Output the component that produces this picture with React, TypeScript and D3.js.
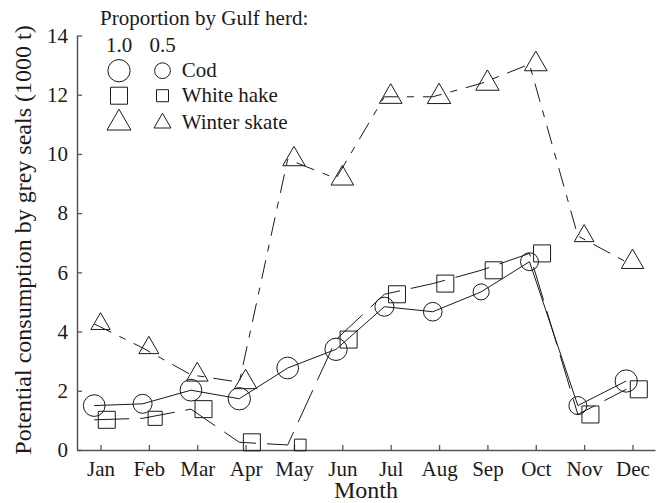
import React, { useEffect, useRef } from "react";
import * as d3 from "d3";

const months = ["Jan", "Feb", "Mar", "Apr", "May", "Jun", "Jul", "Aug", "Sep", "Oct", "Nov", "Dec"];

const codValues = [1.5, 1.56, 2.02, 1.73, 2.77, 3.4, 4.84, 4.67, 5.34, 6.36, 1.5, 2.33];
const codProportion = [0.95, 0.73, 0.95, 1.0, 0.95, 1.0, 0.73, 0.7, 0.52, 0.65, 0.65, 1.0];

const hakeValues = [1.02, 1.07, 1.38, 0.26, 0.17, 3.73, 5.26, 5.62, 6.07, 6.64, 1.2, 2.05];
const hakeProportion = [1.0, 0.69, 1.0, 1.0, 0.47, 1.0, 1.0, 1.0, 1.0, 1.0, 1.0, 1.0];

const skateValues = [4.26, 3.45, 2.54, 2.29, 9.82, 9.17, 11.93, 11.93, 12.38, 13.03, 7.23, 6.35];
const skateProportion = [0.65, 0.69, 0.82, 0.87, 0.87, 0.89, 0.89, 0.95, 0.95, 0.89, 0.67, 0.87];

const yTicks = [0, 2, 4, 6, 8, 10, 12, 14];
const legendProportions = [1.0, 0.5];
const legendProportionLabels = ["1.0", "0.5"];
const legendLabels = ["Cod", "White hake", "Winter skate"];

const W = 659;
const H = 503;
const FONT = "Liberation Serif, DejaVu Serif, Times New Roman, serif";
const INK = "#1a1a1a";
const AXIS = "#555";

export default function App() {
  const xAxisRef = useRef<SVGGElement>(null);
  const yAxisRef = useRef<SVGGElement>(null);

  const x = d3.scaleLinear().domain([-0.486, 11.465]).range([77, 655]);
  const y = d3.scaleLinear().domain([0, 14]).range([450, 35.5]);

  const series = [
    { values: codValues, prop: codProportion, symbol: d3.symbolCircle, base: 390, off: -0.13, dash: "" },
    { values: hakeValues, prop: hakeProportion, symbol: d3.symbolSquare, base: 289, off: 0.13, dash: "35,11" },
    { values: skateValues, prop: skateProportion, symbol: d3.symbolTriangle, base: 250, off: 0, dash: "19,9,7,9" },
  ];
  const lineOff = -0.13;

  useEffect(() => {
    if (xAxisRef.current) {
      const g = d3.select(xAxisRef.current);
      g.selectAll("*").remove();
      g.call(
        d3
          .axisBottom(x)
          .tickValues(d3.range(months.length))
          .tickFormat((i) => months[i as number])
          .tickSizeInner(-5)
          .tickSizeOuter(0)
          .tickPadding(11)
      );
      g.attr("font-family", FONT).attr("font-size", 21);
      g.select(".domain").attr("stroke", AXIS).attr("stroke-width", 1.5);
      g.selectAll(".tick line").attr("stroke", AXIS).attr("stroke-width", 1.3);
      g.selectAll(".tick text").attr("fill", INK);
    }
    if (yAxisRef.current) {
      const g = d3.select(yAxisRef.current);
      g.selectAll("*").remove();
      g.call(
        d3
          .axisLeft(y)
          .tickValues(yTicks)
          .tickFormat(d3.format("d"))
          .tickSizeInner(-5)
          .tickSizeOuter(0)
          .tickPadding(9)
      );
      g.attr("font-family", FONT).attr("font-size", 21);
      g.select(".domain").attr("stroke", AXIS).attr("stroke-width", 1.5);
      g.selectAll(".tick line").attr("stroke", AXIS).attr("stroke-width", 1.3);
      g.selectAll(".tick text").attr("fill", INK);
    }
  });

  const line = d3
    .line<number>()
    .x((_, i) => x(i + lineOff))
    .y((d) => y(d));

  const legendRowsY = [70.7, 95.7, 123.1];
  const legendColsX = [119, 162.5];
  const sizeScales = series.map((s) => d3.scaleLinear().domain([0, 1]).range([0, s.base]));

  return (
    <svg
      width={W}
      height={H}
      style={{ position: "absolute", left: 0, top: 0, background: "#fff" }}
      fontFamily={FONT}
    >
      <g ref={yAxisRef} transform={`translate(77,0)`} />
      <g ref={xAxisRef} transform={`translate(0,450)`} />

      {series.map((s, si) => (
        <g key={si}>
          <path
            d={line(s.values) || ""}
            fill="none"
            stroke={INK}
            strokeWidth={1}
            strokeDasharray={s.dash || undefined}
          />
          {s.values.map((v, i) => (
            <path
              key={i}
              d={d3.symbol().type(s.symbol).size(sizeScales[si](s.prop[i]))() || ""}
              transform={`translate(${x(i + s.off)},${y(v)})`}
              fill="none"
              stroke={INK}
              strokeWidth={1}
            />
          ))}
        </g>
      ))}

      {/* Legend */}
      <text x={100} y={25} fontSize={21} fill={INK}>
        Proportion by Gulf herd:
      </text>
      {legendProportionLabels.map((t, i) => (
        <text key={t} x={legendColsX[i]} y={51.7} fontSize={21} fill={INK} textAnchor="middle">
          {t}
        </text>
      ))}
      {series.map((s, si) => (
        <g key={"lg" + si}>
          {legendProportions.map((p, ci) => (
            <path
              key={ci}
              d={d3.symbol().type(s.symbol).size(sizeScales[si](p))() || ""}
              transform={`translate(${legendColsX[ci]},${legendRowsY[si]})`}
              fill="none"
              stroke={INK}
              strokeWidth={1}
            />
          ))}
          <text x={181.7} y={[76.5, 101.7, 129][si]} fontSize={21} fill={INK}>
            {legendLabels[si]}
          </text>
        </g>
      ))}

      {/* Axis titles */}
      <text x={366} y={498} fontSize={24} fill={INK} textAnchor="middle">
        Month
      </text>
      <text
        transform={`translate(31,240) rotate(-90)`}
        fontSize={24}
        fill={INK}
        textAnchor="middle"
      >
        Potential consumption by grey seals (1000 t)
      </text>
    </svg>
  );
}
